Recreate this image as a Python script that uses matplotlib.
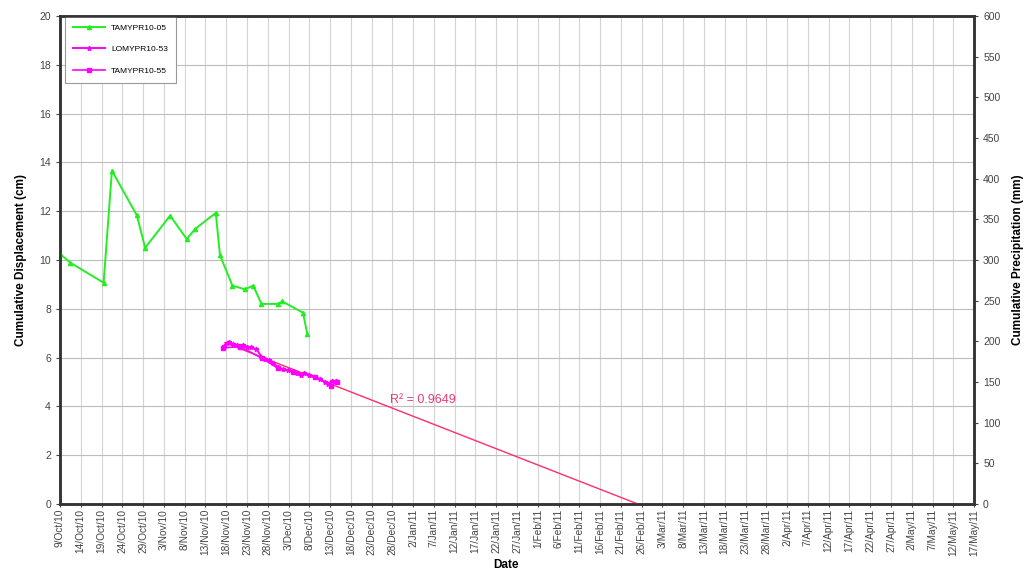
"""
Cumulative displacement of inclinometers / extensometers, Oct 2010 - May 2011,
with a linear trendline extended to zero displacement.
"""

import matplotlib
matplotlib.use("Agg")
import matplotlib.dates as mdates
import matplotlib.pyplot as plt
import numpy as np
import pandas as pd


# ============================================================================
# Data
# ============================================================================

TAM05_DATES = [
    "2010-10-09 00:00", "2010-10-11 12:00", "2010-10-19 12:00", "2010-10-21 12:00",
    "2010-10-27 12:00", "2010-10-29 12:00", "2010-11-04 12:00", "2010-11-08 12:00",
    "2010-11-10 12:00", "2010-11-15 12:00", "2010-11-16 12:00", "2010-11-19 12:00",
    "2010-11-22 12:00", "2010-11-24 12:00", "2010-11-26 12:00", "2010-11-30 12:00",
    "2010-12-01 12:00", "2010-12-06 12:00", "2010-12-07 12:00",
]
TAM05_CM = [
    10.25, 9.89, 9.07, 13.66, 11.83, 10.50, 11.82, 10.86, 11.27, 11.93,
    10.20, 8.95, 8.80, 8.95, 8.20, 8.20, 8.30, 7.84, 6.98,
]

LOM53_DATES = [
    "2010-11-17 12:00", "2010-11-18 02:00", "2010-11-18 17:00", "2010-11-19 14:00",
    "2010-11-20 12:00", "2010-11-21 07:00", "2010-11-22 02:00", "2010-11-23 02:00",
    "2010-11-24 02:00", "2010-11-25 07:00", "2010-11-26 12:00", "2010-11-27 07:00",
    "2010-11-28 10:00", "2010-11-29 07:00", "2010-11-30 12:00", "2010-12-01 17:00",
    "2010-12-02 22:00", "2010-12-04 02:00", "2010-12-05 02:00", "2010-12-05 22:00",
    "2010-12-06 17:00", "2010-12-08 00:00", "2010-12-09 10:00", "2010-12-10 14:00",
    "2010-12-11 19:00", "2010-12-12 14:00", "2010-12-13 10:00", "2010-12-14 10:00",
]
LOM53_CM = [
    6.48, 6.58, 6.64, 6.56, 6.50, 6.48, 6.50, 6.45, 6.42, 6.34,
    6.04, 5.93, 5.90, 5.79, 5.60, 5.52, 5.49, 5.44, 5.36, 5.27,
    5.38, 5.30, 5.22, 5.11, 5.00, 4.92, 5.05, 5.05,
]

TAM55_DATES = [
    "2010-11-17 08:00", "2010-11-21 07:00", "2010-11-26 14:00", "2010-11-30 12:00",
    "2010-12-04 02:00", "2010-12-09 10:00", "2010-12-13 05:00", "2010-12-14 14:00",
]
TAM55_CM = [6.40, 6.45, 5.98, 5.56, 5.42, 5.22, 4.85, 5.00]

# Linear trendline (value at start date, slope in cm/day) and its R²
TREND_START = "2010-11-17 16:00"
TREND_START_CM = 6.61
TREND_SLOPE = -0.0665
TREND_R2 = 0.9649

X_START = "2010-10-09"
X_END = "2011-05-17"
Y_MAX_CM = 20
Y_MAX_MM = 600


# ============================================================================
# Figure
# ============================================================================

plt.rcParams["font.family"] = ["Liberation Sans", "DejaVu Sans"]

fig = plt.figure(figsize=(10.29, 5.76), dpi=100)
ax = fig.add_axes([0.0583, 0.125, 0.8883, 0.8472])

tam05_x = pd.to_datetime(TAM05_DATES)
lom53_x = pd.to_datetime(LOM53_DATES)
tam55_x = pd.to_datetime(TAM55_DATES)

ax.plot(tam05_x, TAM05_CM, color="#22ee22", lw=1.4, marker="^", ms=3,
        label="TAMYPR10-05", zorder=4)
ax.plot(lom53_x, LOM53_CM, color="#ff00ff", lw=1.4, marker="*", ms=3.5,
        label="LOMYPR10-53", zorder=4)
ax.plot(tam55_x, TAM55_CM, color="#ff00ff", lw=1.2, marker="s", ms=2.8,
        label="TAMYPR10-55", zorder=4)

# trendline extended down to zero displacement
t0 = pd.Timestamp(TREND_START)
days_to_zero = -TREND_START_CM / TREND_SLOPE
t1 = t0 + pd.Timedelta(days=days_to_zero)
ax.plot([t0, t1], [TREND_START_CM, 0], color="#ff2d6f", lw=1.0, zorder=3)
ax.text(pd.Timestamp("2010-12-27 12:00"), 4.15, f"R² = {TREND_R2:.4f}",
        color="#ee3a78", fontsize=9)

ticks = pd.date_range(X_START, X_END, freq="5D")
ax.set_xlim(pd.Timestamp(X_START), pd.Timestamp(X_END))
ax.set_xticks(ticks)
ax.xaxis.set_major_formatter(mdates.DateFormatter("%-d/%b/%y"))
ax.tick_params(axis="x", labelrotation=90, labelsize=7.3, colors="#444444",
               length=2, pad=1.5)

ax.set_ylim(0, Y_MAX_CM)
ax.set_yticks(np.arange(0, Y_MAX_CM + 1, 2))
ax.tick_params(axis="y", labelsize=7.5, colors="#444444", length=3)

ax.grid(axis="x", color="#d4d4d4", lw=0.8)
ax.grid(axis="y", color="#bdbdbd", lw=0.8)
ax.set_axisbelow(True)

ax.set_xlabel("Date", fontsize=8.5, fontweight="bold")
ax.xaxis.set_label_coords(0.488, -0.113)
ax.set_ylabel("Cumulative Displacement (cm)", fontsize=8.5, fontweight="bold",
              labelpad=9)

ax2 = ax.twinx()
ax2.set_ylim(0, Y_MAX_MM)
ax2.set_yticks(np.arange(0, Y_MAX_MM + 1, 50))
ax2.tick_params(axis="y", labelsize=7.5, colors="#444444", length=3)
ax2.set_ylabel("Cumulative Precipitation (mm)", fontsize=8.5,
               fontweight="bold", labelpad=8)

for a in (ax, ax2):
    for sp in a.spines.values():
        sp.set_color("#333333")
        sp.set_linewidth(1.8)

leg = ax.legend(loc="upper left", bbox_to_anchor=(0.005, 1.0),
                borderaxespad=0, fontsize=6, handlelength=3.8,
                labelspacing=1.6, borderpad=1.0, fancybox=False,
                edgecolor="#999999", framealpha=1)
leg.get_frame().set_linewidth(0.8)

fig.savefig("out.png", dpi=100)
